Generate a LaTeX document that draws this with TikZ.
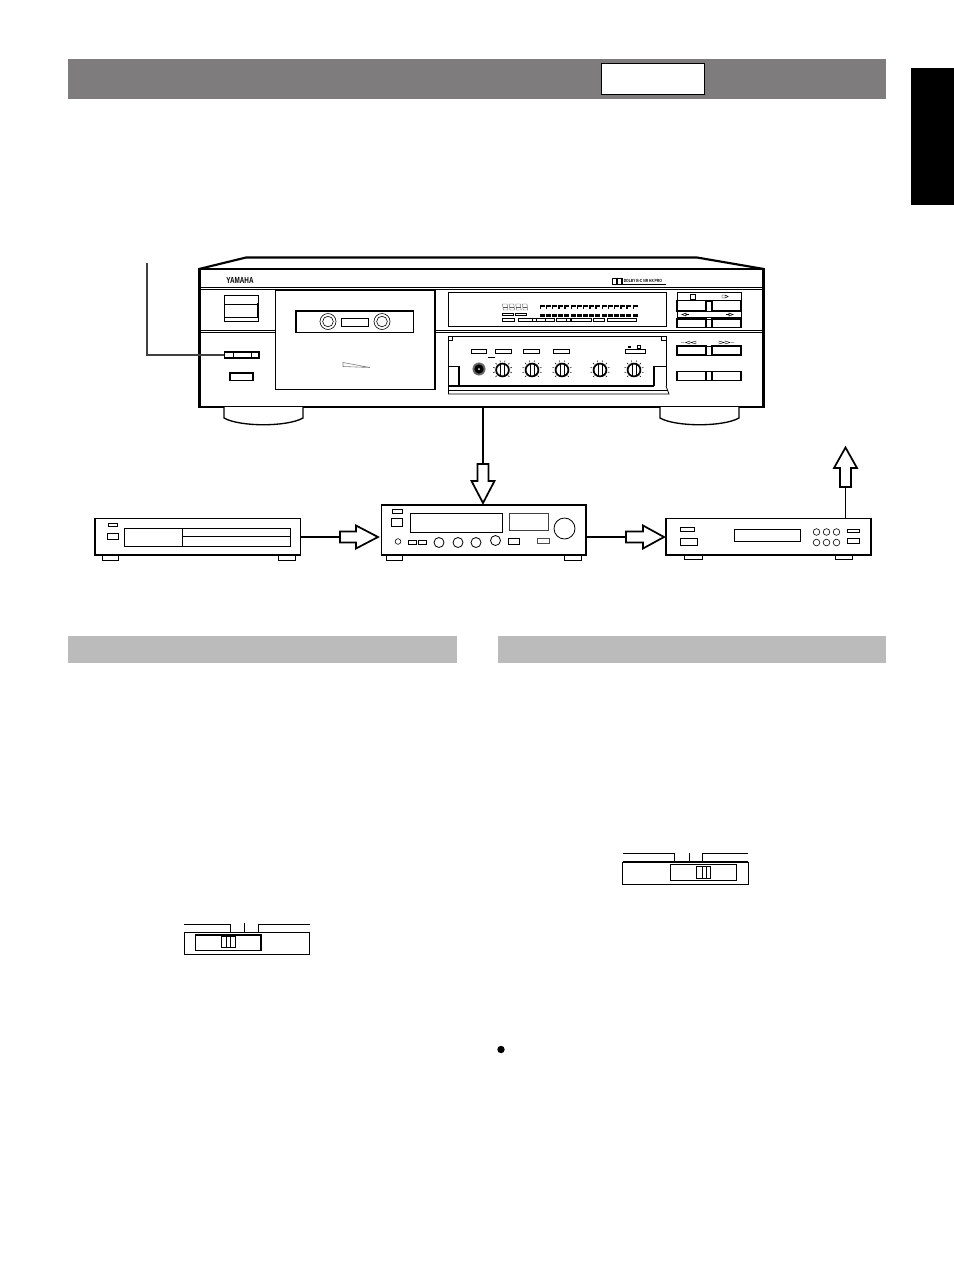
\documentclass[tikz,border=0pt]{standalone}
\usepackage{fontspec}
\setmainfont{Liberation Sans}
\definecolor{bandD}{HTML}{7E7C7C}
\definecolor{bandL}{HTML}{BBBBBB}
\begin{document}
\begin{tikzpicture}[x=0.75pt,y=-0.75pt,
 med/.style={draw=black,line width=0.9pt},
 thick1/.style={draw=black,line width=1.6pt},
 hol/.style={draw=black,line width=1.3pt,fill=white,line join=miter},
 foot/.style={draw=black,line width=0.75pt,fill=white},
 lab/.style={inner sep=0pt}]
\useasboundingbox (0,0) rectangle (954,1272);
\fill[white] (0,0) rectangle (954,1272);
% header bands
\fill[bandD] (68,59) rectangle (886,99);
\node[draw=black,line width=0.4pt,fill=white,minimum width=77.6pt,minimum height=23.6pt,inner sep=0pt,anchor=north west] (tab) at (600.5,63) {};
\fill[black] (911,68) rectangle (954,205);
\fill[bandL] (68,636) rectangle (457,663);
\fill[bandL] (498,636) rectangle (886,663);
% deck top
\draw[thick1,line join=round] (199,269) -- (246,257.5) -- (697,257.5) -- (764,269);
\draw[draw=black,line width=2pt,fill=white] (199.5,269) rectangle (763.5,407);
% feet
\draw[foot,line width=1pt] (224,407) -- (224,418) .. controls (240,427) and (287,427) .. (303,418) -- (303,407);
\draw[foot,line width=1pt] (660,407) -- (660,418) .. controls (676,427) and (723,427) .. (739,418) -- (739,407);
% horizontal rules
\foreach \yy in {287.5,289,330,332}{\draw[line width=0.45pt] (200,\yy) -- (763,\yy);}
\node[lab] (yam) at (240,280) {\fontsize{6.6}{7}\selectfont\bfseries\scalebox{0.72}[1]{YAMAHA}};
% cassette well
\draw[line width=0.8pt,fill=white] (275.5,290) rectangle (435,389.5);
\draw[line width=1.1pt] (435,290) -- (435,389.5) (275.5,290) -- (435,290);
\draw[med] (296,311) rectangle (413.5,332.5);
\foreach \cx in {328,382}{
 \draw[line width=0.45pt] (\cx,321.5) circle (8);
 \draw[line width=0.45pt] (\cx,321.5) circle (5.3);}
\draw[line width=0.45pt] (341.5,318) rectangle (368,326);
\draw[line width=0.45pt,draw=gray] (343,362.5) -- (343,366.5) -- (370,367.5) -- cycle;
% left controls
\draw[line width=0.75pt] (224,295) rectangle (258,321);
\draw[line width=0.6pt] (224,304.5) -- (258,304.5);
\draw[line width=1.2pt] (258,303) -- (258,317.5);
\draw[line width=0.6pt] (224,317) -- (258,317);
\draw[med,line width=1.1pt] (224.5,352) rectangle (259,358);
\draw[line width=0.5pt,fill=white] (233,352.5) rectangle (251,357.5);
\draw[line width=1.1pt] (230,373) rectangle (253,380.5);
% leader
\coordinate (lead0) at (147,263);
\coordinate (lead1) at (147,355);
\coordinate (lead2) at (224,355);
\draw[line width=0.8pt,draw=black!75] (lead0) -- (lead1) -- (lead2);
% display
\draw[line width=0.6pt] (448,292.5) rectangle (666.5,326.5);
\foreach \i in {0,1,2,3}{
 \begin{scope}[shift={({502.5+6.6*\i},304)},xslant=-0.15]
 \draw[line width=0.3pt,draw=black!65] (0,0) rectangle (4.6,6);
 \draw[line width=0.3pt,draw=black!65] (0,3) -- (4.6,3);
 \end{scope}}
\foreach \i in {0,...,15}{
 \fill ({539.5+6.2*\i},305) rectangle ({544.5+6.2*\i},306.5);
 \fill ({539.5+6.2*\i},305) rectangle ({541+6.2*\i},309);
 \fill ({539.5+6.2*\i},313.5) rectangle ({544.5+6.2*\i},316.5);}
\foreach \a/\b in {502/513.5,515/526}{\draw[line width=0.35pt] (\a,313) rectangle (\b,315.5);}
\foreach \a/\b in {502/514.5,518/532.5,532.5/536,536/545,545/554,556/566,566/570,571/591,593/604.5,607/636.5}
 {\draw[line width=0.45pt] (\a,318.5) rectangle (\b,321.5);}
% dolby mark
\draw[line width=0.5pt] (612,278.5) rectangle (616,284);
\draw[line width=0.5pt] (617,278.5) rectangle (621,284);
\draw[line width=0.5pt] (622.5,278) -- (622.5,284) -- (666,284);
\node[lab,anchor=west] (dolby) at (623.5,281) {\fontsize{3.4}{4}\selectfont\bfseries\scalebox{0.74}[1]{DOLBY B-C NR HX PRO}};
% lower panel
\draw[line width=0.6pt] (448,336) -- (666.5,336) -- (666.5,386) (448,336) -- (448,394);
\draw[line width=0.5pt] (448,336) rectangle (452,340);
\draw[line width=0.5pt] (661.5,336) rectangle (666.5,340);
\draw[line width=0.7pt] (448,366) -- (459,366);
\draw[line width=1pt] (459,366) -- (459,385.5);
\draw[line width=1.2pt] (448,386) -- (654,386);
\draw[line width=0.7pt] (654,366) -- (666.5,366);
\draw[line width=1pt] (654,366) -- (654,385.5);
\draw[line width=0.5pt] (448,390.5) -- (667.5,390.5);
\draw[line width=0.6pt] (666,386) -- (669,394) -- (448,394);
\foreach \a/\b in {471/486,495/511,523/539,553/569,625/645}
 {\draw[line width=0.6pt] (\a,349) rectangle (\b,353);}
\draw[line width=0.5pt] (488,357) -- (495,357);
\fill (628,345.5) rectangle (631,348);
\draw[line width=0.4pt] (637.5,345.5) rectangle (640,348);
\filldraw[line width=0.4pt,draw=black!60,fill=black!60] (479,369) circle (6.2);
\fill[black] (479,369) circle (4.6);
\fill[white] (479,369) circle (1);
\foreach \kx in {502.5,532,562,600,634}{
 \draw[line width=1.3pt,fill=white] (\kx,370) circle (6.4);
 \draw[line width=0.7pt] (\kx-2,364) -- (\kx-2,376) (\kx+2,364) -- (\kx+2,376);
 \foreach \ang in {-135,-105,...,135}{
  \draw[line width=0.35pt] ({\kx+8*sin(\ang)},{370-8*cos(\ang)}) -- ({\kx+9.8*sin(\ang)},{370-9.8*cos(\ang)});}
}
% right buttons
\draw[line width=0.6pt] (677,292) rectangle (741,327);
\draw[line width=0.6pt] (677,292) rectangle (741,301);
\draw[line width=0.6pt] (677,311) rectangle (741,317.5);
\draw[line width=1pt,fill=white] (677,300.5) rectangle (706,311);
\draw[line width=1pt,fill=white] (712,300.5) rectangle (741,311);
\draw[line width=1pt,fill=white] (677,319) rectangle (706,327.5);
\draw[line width=1pt,fill=white] (712,319) rectangle (741,327.5);
\draw[line width=0.5pt] (706,300.5) -- (712,300.5) (706,311) -- (712,311) (706,319) -- (712,319) (706,327.5) -- (712,327.5);
\draw[line width=0.6pt] (690,294.5) rectangle (695.5,299);
\draw[line width=0.35pt] (722,295) rectangle (725,298) (725,295) -- (728,296.5) -- (725,298);
\draw[line width=0.4pt] (686,313) -- (682,314.5) -- (686,316) -- cycle (686,314.5) -- (689,314.5);
\draw[line width=0.4pt] (729,313) -- (733,314.5) -- (729,316) -- cycle (726,314.5) -- (729,314.5);
\foreach \yt/\yb in {346/355,371.5/380.5}{
 \draw[line width=1pt] (677,\yt) rectangle (706,\yb);
 \draw[line width=1pt] (712,\yt) rectangle (741,\yb);
 \draw[line width=0.5pt] (706,\yt) -- (712,\yt) (706,\yb) -- (712,\yb);}
\draw[line width=0.3pt] (690,341) -- (685.5,342.5) -- (690,344) -- cycle (696,341) -- (691,342.5) -- (696,344) -- cycle (684,342.5) -- (681,342.5);
\draw[line width=0.3pt] (719,341) -- (724,342.5) -- (719,344) -- cycle (725,341) -- (730,342.5) -- (725,344) -- cycle (731,342.5) -- (734,342.5);
% CD player
\draw[line width=1.1pt,fill=white] (95,518.5) rectangle (300.5,555);
\draw[line width=1.5pt] (95,555) -- (300.5,555);
\draw[line width=0.75pt,fill=white] (102,555.5) rectangle (118,560);
\draw[line width=0.75pt,fill=white] (278,555.5) rectangle (295,560);
\draw[line width=0.5pt] (108.5,523.5) rectangle (117,526);
\draw[line width=0.5pt] (107.5,533) rectangle (118,539.5);
\draw[line width=0.6pt] (124.5,528.5) rectangle (290.5,546.5);
\draw[line width=0.6pt] (182.5,528.5) -- (182.5,546.5) (182.5,536.5) -- (290.5,536.5);
% amp
\draw[line width=1.1pt,fill=white] (381.5,505) rectangle (586,555);
\draw[line width=1.5pt] (381.5,555) -- (586,555);
\draw[line width=0.75pt,fill=white] (386.5,555.5) rectangle (402,560);
\draw[line width=0.75pt,fill=white] (564.5,555.5) rectangle (581,560);
\draw[line width=0.5pt] (392,509) rectangle (402,513);
\draw[line width=0.5pt] (391.5,518) rectangle (402,526);
\draw[line width=0.6pt] (410,513.5) rectangle (502.5,532);
\draw[line width=0.6pt,draw=black!75] (509.5,513.5) rectangle (548,530.5);
\draw[line width=0.6pt] (564.5,528.5) circle (10.5);
\draw[line width=0.45pt] (398,541.5) circle (2.8);
\draw[line width=0.45pt] (408.5,540.5) rectangle (416,544.5);
\draw[line width=0.45pt] (418.5,540.5) rectangle (426,544.5);
\foreach \x/\y in {439/542.5,458/542.5,476/542.5,495.5/540.5}{\draw[line width=0.6pt] (\x,\y) circle (5);}
\draw[line width=0.45pt] (508.5,538.5) rectangle (519,544);
\draw[line width=0.45pt,draw=black!70] (537.5,538) rectangle (549,543);
% tuner
\draw[line width=1.1pt,fill=white] (666,518.5) rectangle (871,555);
\draw[line width=1.5pt] (666,555) -- (871,555);
\draw[line width=0.75pt,fill=white] (684,555.5) rectangle (702,559.5);
\draw[line width=0.75pt,fill=white] (835,555.5) rectangle (852,559.5);
\draw[line width=0.5pt] (680.5,527.5) rectangle (694,531.5);
\draw[line width=0.5pt] (680,538.5) rectangle (697,545);
\draw[line width=0.6pt] (734.5,529) rectangle (800.5,541);
\foreach \x in {816.5,826.5,836.5}{\foreach \y in {532,542.5}{\draw[line width=0.45pt] (\x,\y) circle (3.3);}}
\draw[line width=0.5pt] (847.5,529.5) rectangle (859,532.5);
\draw[line width=0.5pt] (847.5,538.5) rectangle (859,543);
% connectors between components
\coordinate (c1) at (340,537);
\coordinate (c2) at (626,537);
\draw[line width=0.9pt] (300.5,537) -- (c1);
\draw[hol] (340,531.5) -- (356,531.5) -- (356,525.5) -- (378,537) -- (356,548.5) -- (356,542.5) -- (340,542.5) -- cycle;
\draw[line width=0.9pt] (586,537) -- (c2);
\draw[hol] (626,531.5) -- (643,531.5) -- (643,525.5) -- (664,537) -- (643,548.5) -- (643,542.5) -- (626,542.5) -- cycle;
\draw[line width=0.9pt] (483,407) -- (483,464);
\draw[hol] (477.5,464) -- (488.5,464) -- (488.5,481) -- (494.5,481) -- (483,503) -- (471.5,481) -- (477.5,481) -- cycle;
\draw[line width=0.9pt] (845.5,518) -- (845.5,487);
\draw[hol] (840,487) -- (851,487) -- (851,468) -- (857,468) -- (845.5,447.5) -- (834,468) -- (840,468) -- cycle;
% switches
\draw[line width=0.6pt] (184,932.5) rectangle (309.5,954.5);
\draw[line width=0.5pt] (184,924.5) -- (230,924.5) -- (230,932.5);
\draw[line width=0.5pt] (258,932.5) -- (258,924.5) -- (309.5,924.5);
\draw[line width=0.5pt] (244.5,923) -- (244.5,932.5);
\draw[line width=1pt] (195.5,935) rectangle (261,950.5);
\draw[line width=0.6pt,fill=white] (221,936.5) rectangle (235.5,947.5);
\draw[line width=0.6pt] (226,936.5) -- (226,947.5) (230.5,936.5) -- (230.5,947.5);
\draw[line width=0.6pt] (622.5,862) rectangle (748,884.5);
\draw[line width=1.1pt] (622.5,862) -- (748,862);
\draw[line width=0.5pt] (622.5,853.5) -- (674.5,853.5) -- (674.5,861);
\draw[line width=0.5pt] (702.5,861) -- (702.5,853.5) -- (748,853.5);
\draw[line width=0.5pt] (689,853) -- (689,861);
\draw[line width=0.6pt] (670,864.5) rectangle (736.5,880);
\draw[line width=0.6pt,fill=white] (696,866.5) rectangle (710,878);
\draw[line width=0.6pt] (702.5,866.5) -- (702.5,878) (706.5,866.5) -- (706.5,878);
% bullet
\fill[black] (501,1049.5) circle (3.7);
\end{tikzpicture}
\end{document}
